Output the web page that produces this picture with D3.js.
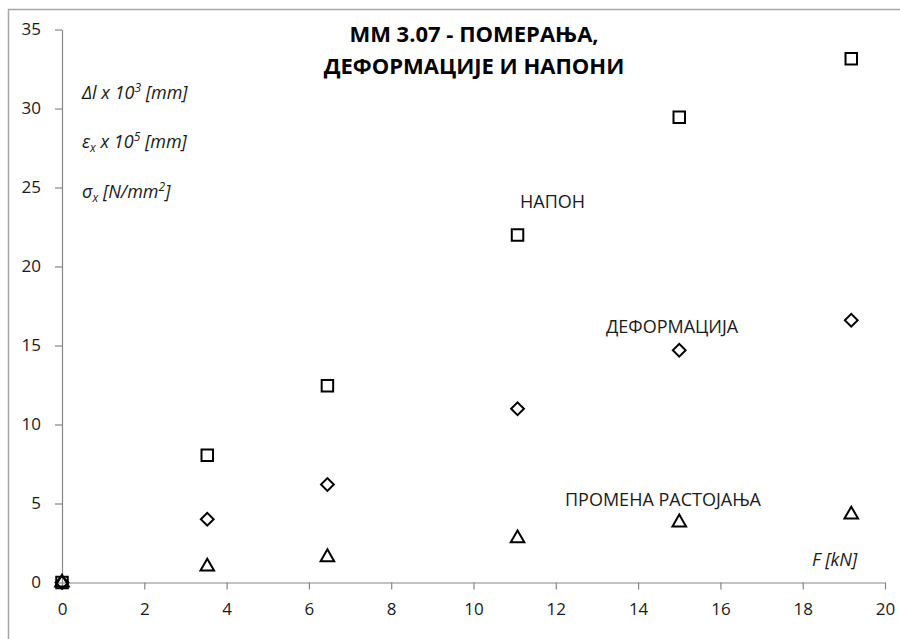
<!DOCTYPE html>
<html><head><meta charset="utf-8">
<script src="https://cdn.jsdelivr.net/npm/d3@7"></script>
<style>
html,body{margin:0;padding:0;background:#fff;}
svg text{font-family:"Open Sans","Noto Sans",sans-serif;}
</style></head>
<body>
<svg id="chart" width="900" height="639"></svg>
<script>
const forceValues = [0, 3.53, 6.45, 11.07, 15.0, 19.18];
const naponValues = [0, 8.05, 12.45, 22.0, 29.45, 33.15];
const deformacijaValues = [0, 4.0, 6.2, 11.0, 14.7, 16.6];
const promenaValues = [0, 1.0, 1.6, 2.8, 3.8, 4.3];
const xTicks = [0, 2, 4, 6, 8, 10, 12, 14, 16, 18, 20];
const yTicks = [0, 5, 10, 15, 20, 25, 30, 35];
const titleLines = ["ММ 3.07 - ПОМЕРАЊА,", "ДЕФОРМАЦИЈЕ И НАПОНИ"];

const svg = d3.select("#chart");
svg.append("rect").attr("x", 8.5).attr("y", 9.5).attr("width", 900).attr("height", 640)
  .attr("fill", "#fff").attr("stroke", "#a6a6a6").attr("stroke-width", 1.5);

const x = d3.scaleLinear().domain([0, 20]).range([62, 885]);
const y = d3.scaleLinear().domain([0, 35]).range([582.5, 29.5]);

const xAxis = svg.append("g").attr("transform", `translate(0,${y(0)})`)
  .call(d3.axisBottom(x).tickValues(xTicks).tickSize(7).tickSizeOuter(0).tickPadding(13));
const yAxis = svg.append("g").attr("transform", `translate(${x(0)},0)`)
  .call(d3.axisLeft(y).tickValues(yTicks).tickSize(7).tickSizeOuter(0).tickPadding(14));
[xAxis, yAxis].forEach(g => {
  g.select(".domain").attr("stroke", "#868686").attr("stroke-width", 1.2);
  g.selectAll(".tick line").attr("stroke", "#868686").attr("stroke-width", 1.2);
  g.selectAll(".tick text").attr("fill", "#1a1a1a").style("font-size", "17px")
   .style("font-family", "'Open Sans', sans-serif");
});

const sq = d3.symbol().type(d3.symbolSquare).size(132);
const tri = d3.symbol().type(d3.symbolTriangle).size(80);
const dia = d3.symbol().type(d3.symbolSquare).size(82);

function drawSeries(vals, gen, rot) {
  svg.append("g").selectAll("path").data(forceValues.map((f, i) => [f, vals[i]]))
    .join("path")
    .attr("d", gen)
    .attr("transform", d => `translate(${x(d[0])},${y(d[1])}) rotate(${rot})`)
    .attr("fill", "none").attr("stroke", "#000").attr("stroke-width", 2);
}
drawSeries(naponValues, sq, 0);
drawSeries(deformacijaValues, dia, 45);
drawSeries(promenaValues, tri, 0);

// title
svg.append("g").selectAll("text").data(titleLines).join("text")
  .attr("x", 474).attr("y", (d, i) => 42 + i * 32).attr("text-anchor", "middle")
  .style("font-size", "22px").style("font-weight", "bold").attr("fill", "#000")
  .text(d => d);

// axis legend labels (italic)
const lab = svg.append("g").style("font-style", "italic").style("font-size", "18px").attr("fill", "#1a1a1a");
let t = lab.append("text").attr("x", 82).attr("y", 99);
t.append("tspan").text("Δl x 10");
t.append("tspan").attr("dy", -7).style("font-size", "12px").text("3");
t.append("tspan").attr("dy", 7).text(" [mm]");
t = lab.append("text").attr("x", 82).attr("y", 148);
t.append("tspan").text("ε");
t.append("tspan").attr("dy", 4).style("font-size", "12px").text("x");
t.append("tspan").attr("dy", -4).text(" x 10");
t.append("tspan").attr("dy", -7).style("font-size", "12px").text("5");
t.append("tspan").attr("dy", 7).text(" [mm]");
t = lab.append("text").attr("x", 82).attr("y", 198);
t.append("tspan").text("σ");
t.append("tspan").attr("dy", 4).style("font-size", "12px").text("x");
t.append("tspan").attr("dy", -4).text(" [N/mm");
t.append("tspan").attr("dy", -7).style("font-size", "12px").text("2");
t.append("tspan").attr("dy", 7).text("]");
lab.append("text").attr("x", 812).attr("y", 566).text("F [kN]");

// series labels
const sl = svg.append("g").style("font-size", "18px").attr("fill", "#1a1a1a");
sl.append("text").attr("x", 520).attr("y", 208).text("НАПОН");
sl.append("text").attr("x", 606).attr("y", 333).text("ДЕФОРМАЦИЈА");
sl.append("text").attr("x", 565).attr("y", 506).text("ПРОМЕНА РАСТОЈАЊА");
</script>
</body></html>
